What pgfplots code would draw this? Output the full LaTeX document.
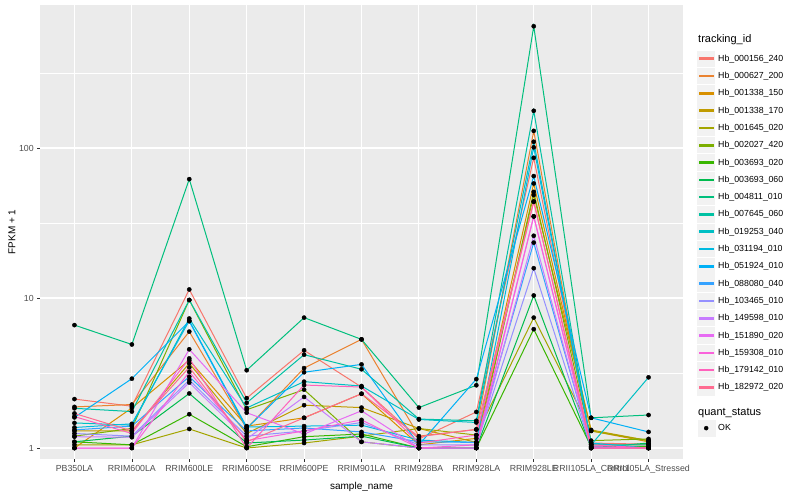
\documentclass[border=0pt]{standalone}
\usepackage{fontspec}
\setmainfont{Liberation Sans}
\usepackage{pgfplots}
\usepackage{pgfplotstable}
\pgfplotsset{compat=1.18}

% ggplot hue palette, 20 levels
\definecolor{c1}{HTML}{F8766D}
\definecolor{c2}{HTML}{EA8331}
\definecolor{c3}{HTML}{D89000}
\definecolor{c4}{HTML}{C09B00}
\definecolor{c5}{HTML}{A3A500}
\definecolor{c6}{HTML}{7CAE00}
\definecolor{c7}{HTML}{39B600}
\definecolor{c8}{HTML}{00BB4E}
\definecolor{c9}{HTML}{00BF7D}
\definecolor{c10}{HTML}{00C1A3}
\definecolor{c11}{HTML}{00BFC4}
\definecolor{c12}{HTML}{00BAE0}
\definecolor{c13}{HTML}{00B0F6}
\definecolor{c14}{HTML}{35A2FF}
\definecolor{c15}{HTML}{9590FF}
\definecolor{c16}{HTML}{C77CFF}
\definecolor{c17}{HTML}{E76BF3}
\definecolor{c18}{HTML}{FA62DB}
\definecolor{c19}{HTML}{FF62BC}
\definecolor{c20}{HTML}{FF6C91}
\definecolor{panel}{HTML}{EBEBEB}
\definecolor{keybg}{HTML}{F2F2F2}
\definecolor{gray20}{HTML}{333333}
\definecolor{gray30}{HTML}{4D4D4D}

% FPKM + 1, one row per sample, one column per tracking id
\pgfplotstableread{
x  s1   s2   s3   s4   s5   s6   s7   s8   s9   s10  s11  s12  s13  s14  s15  s16  s17  s18  s19  s20
0  2.12 1.88 1.00 1.30 1.05 1.20 1.10 1.10 6.6  1.84 1.47 1.37 1.60 1.32 1.25 1.19 1.00 1.00 1.62 1.70
1  1.90 1.95 1.85 1.30 1.05 1.35 1.05 1.20 4.9  1.75 1.42 1.45 2.90 1.40 1.20 1.18 1.00 1.00 1.25 1.30
2  11.4 5.97 3.85 3.67 1.34 9.7  1.68 2.31 62   9.7  7.3  7.06 7.0  2.99 2.84 2.73 4.55 3.22 3.96 3.45
3  2.15 1.35 1.40 1.25 1.00 1.80 1.02 1.08 3.3  2.00 1.85 1.38 1.35 1.30 1.20 1.15 1.72 1.12 1.00 1.10
4  4.48 3.41 1.59 1.93 1.08 2.45 1.19 1.13 7.4  4.19 2.77 1.40 3.20 1.36 1.30 2.19 1.24 1.30 2.63 1.59
5  2.55 5.30 2.30 1.86 1.20 1.10 1.24 1.20 5.3  3.35 2.59 1.42 3.61 1.28 1.48 1.10 1.77 1.54 2.55 2.30
6  1.15 1.20 1.05 1.35 1.35 1.00 1.00 1.00 1.86 1.56 1.55 1.13 1.05 1.10 1.05 1.00 1.00 1.00 1.08 1.19
7  1.74 1.33 1.16 1.09 1.22 1.00 1.00 1.00 2.62 1.52 1.48 1.09 2.88 1.09 1.05 1.00 1.00 1.05 1.22 1.33
8  86   130  58   48.6 7.4  51   6.2  10.4 648  177  110  101  65   23.4 15.8 26   35   35   43.8 44
9  1.08 1.05 1.30 1.32 1.30 1.12 1.02 1.00 1.59 1.05 1.05 1.08 1.59 1.02 1.00 1.00 1.00 1.02 1.05 1.00
10 1.06 1.05 1.10 1.12 1.12 1.15 1.02 1.08 1.66 1.05 2.96 1.00 1.28 1.00 1.00 1.00 1.00 1.00 1.00 1.00
}\fpkm

\begin{document}
\begin{tikzpicture}
\useasboundingbox (-40pt,-41pt) rectangle (760pt,459pt);
\begin{axis}[
    width=643pt, height=454pt, scale only axis,
    ymode=log,
    xmin=-0.6, xmax=10.6,
    ymin=0.845, ymax=898,
    xtick={0,...,10},
    xticklabels={PB350LA, RRIM600LA, RRIM600LE, RRIM600SE, RRIM600PE, RRIM901LA,
        RRIM928BA, RRIM928LA, RRIM928LE, RRII105LA\_Control, RRII105LA\_Stressed},
    ytick={1,10,100}, yticklabels={1,10,100},
    minor ytick={3.1623,31.623,316.23},
    grid=both,
    major grid style={white, line width=1.07pt},
    minor grid style={white, line width=0.53pt},
    axis background/.style={fill=panel},
    axis line style={draw=none},
    tick pos=left, tick align=outside,
    major tick length=2.75pt, minor tick length=0pt,
    tick style={color=gray20, line width=0.53pt},
    tick label style={font=\fontsize{8.8}{10}\selectfont, text=gray30},
    /pgf/number format/assume math mode=true,
    xlabel={sample\_name}, ylabel={FPKM + 1},
    label style={font=\fontsize{11}{13}\selectfont},
    every axis x label/.style={at={(axis description cs:0.5,-0.0617)}, anchor=center},
    every axis y label/.style={at={(axis description cs:-0.0435,0.5)}, rotate=90, anchor=center},
    legend image code/.code={
        \fill[keybg] (0pt,-7.7pt) rectangle (17pt,7.7pt);
        \fill[#1] (1.7pt,-0.8pt) rectangle (15.3pt,0.8pt);
    },
    legend cell align=left,
    legend style={draw=none, fill=none, at={(1,1)}, anchor=north west,
        xshift=14pt, yshift=-27pt, inner sep=0pt, row sep=0.9pt,
        font=\fontsize{8.8}{10}\selectfont,
        /tikz/every odd column/.append style={column sep=1pt}},
    legend entries={
        {\fontsize{11}{13}\selectfont\hspace*{-20pt}\raisebox{4pt}{tracking\_id}},
        Hb\_000156\_240, Hb\_000627\_200, Hb\_001338\_150, Hb\_001338\_170,
        Hb\_001645\_020, Hb\_002027\_420, Hb\_003693\_020, Hb\_003693\_060,
        Hb\_004811\_010, Hb\_007645\_060, Hb\_019253\_040, Hb\_031194\_010,
        Hb\_051924\_010, Hb\_088080\_040, Hb\_103465\_010, Hb\_149598\_010,
        Hb\_151890\_020, Hb\_159308\_010, Hb\_179142\_010, Hb\_182972\_020,
        {\fontsize{11}{13}\selectfont\hspace*{-20pt}\rule[-2.2pt]{0pt}{19.5pt}quant\_status},
        OK},
]
\addlegendimage{empty legend}
\pgfplotsinvokeforeach{1,...,20}{
    \addplot[color=c#1, line width=1pt, mark=none] table[x=x, y=s#1]{\fpkm};
}
\pgfplotsinvokeforeach{1,...,20}{
    \addplot[only marks, mark=*, mark size=2.1pt, black, forget plot] table[x=x, y=s#1]{\fpkm};
}
\addlegendimage{empty legend}
\addlegendimage{legend image code/.code={
    \fill[keybg] (0pt,-7.7pt) rectangle (17pt,7.7pt);
    \fill[black] (8.5pt,0pt) circle (2pt);}}
\end{axis}
\end{tikzpicture}
\end{document}
